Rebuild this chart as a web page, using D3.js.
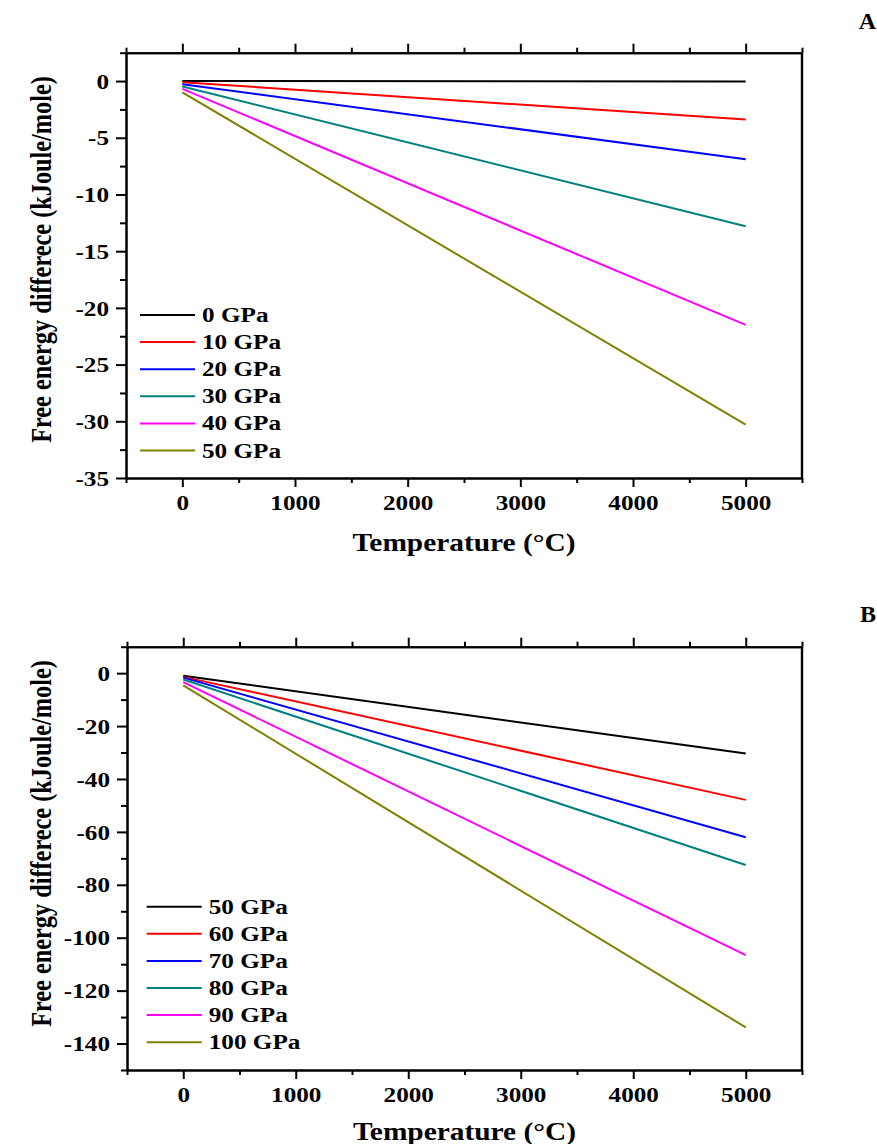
<!DOCTYPE html>
<html>
<head>
<meta charset="utf-8">
<script src="https://cdn.jsdelivr.net/npm/d3@7"></script>
<style>
  body { margin: 0; background: #fff; }
  text { font-family: "Liberation Serif", "Times New Roman", serif; font-weight: bold; fill: #000; }
  .axis path, .axis line { stroke: #000; stroke-width: 2; }
</style>
</head>
<body>
<div id="chart"></div>
<script>
// temperatures (°C) at which values were read
const temps = [0, 5000];

// panel A series (kJoule/mole)
const labelsA = ['0 GPa', '10 GPa', '20 GPa', '30 GPa', '40 GPa', '50 GPa'];
const gpa0 = [0.0, -0.03];
const gpa10 = [-0.1, -3.4];
const gpa20 = [-0.28, -6.9];
const gpa30 = [-0.48, -12.8];
const gpa40 = [-0.69, -21.5];
const gpa50 = [-0.99, -30.3];

// panel B series
const labelsB = ['50 GPa', '60 GPa', '70 GPa', '80 GPa', '90 GPa', '100 GPa'];
const gpa50b = [-0.95, -30.4];
const gpa60 = [-1.4, -47.9];
const gpa70 = [-1.7, -62.0];
const gpa80 = [-2.4, -72.5];
const gpa90 = [-3.4, -106.6];
const gpa100 = [-4.6, -133.9];

const colors = ['#000000', '#ff0000', '#0000ff', '#008080', '#ff00ff', '#808000'];

const xMajor = [0, 1000, 2000, 3000, 4000, 5000];
const xMinor = [-500, 500, 1500, 2500, 3500, 4500, 5500];
const yMajorA = [0, -5, -10, -15, -20, -25, -30, -35];
const yMinorA = [2.5, -2.5, -7.5, -12.5, -17.5, -22.5, -27.5, -32.5];
const yMajorB = [0, -20, -40, -60, -80, -100, -120, -140];
const yMinorB = [10, -10, -30, -50, -70, -90, -110, -130, -150];

const stretch = 1.2;
const plain = d => String(d);   // hyphen minus, no thousands separator

const svg = d3.select('#chart').append('svg')
    .attr('width', 877)
    .attr('height', 1144);

svg.append('rect').attr('width', 877).attr('height', 1144).attr('fill', '#fff');

function drawPanel(p) {
    const g = svg.append('g');

    const x = d3.scaleLinear().domain([-500, 5500]).range([p.left, p.right]);
    const y = d3.scaleLinear().domain(p.yDomain).range([p.bottom, p.top]);

    // bottom
    g.append('g').attr('class', 'axis')
        .attr('transform', `translate(0, ${p.bottom})`)
        .call(d3.axisBottom(x).tickValues(xMinor).tickSize(5).tickFormat('').tickSizeOuter(0));
    const bx = g.append('g').attr('class', 'axis')
        .attr('transform', `translate(0, ${p.bottom})`)
        .call(d3.axisBottom(x).tickValues(xMajor).tickSize(9).tickFormat(plain).tickSizeOuter(0));
    bx.selectAll('text')
        .attr('y', 32).attr('dy', 0)
        .attr('transform', `scale(${stretch},1)`)
        .style('font-size', '21px');

    // top
    g.append('g').attr('class', 'axis')
        .attr('transform', `translate(0, ${p.top})`)
        .call(d3.axisTop(x).tickValues(xMinor).tickSize(5).tickFormat('').tickSizeOuter(0));
    g.append('g').attr('class', 'axis')
        .attr('transform', `translate(0, ${p.top})`)
        .call(d3.axisTop(x).tickValues(xMajor).tickSize(9).tickFormat('').tickSizeOuter(0));

    // left
    g.append('g').attr('class', 'axis')
        .attr('transform', `translate(${p.left}, 0)`)
        .call(d3.axisLeft(y).tickValues(p.yMinor).tickSize(6).tickFormat('').tickSizeOuter(0));
    const ly = g.append('g').attr('class', 'axis')
        .attr('transform', `translate(${p.left}, 0)`)
        .call(d3.axisLeft(y).tickValues(p.yMajor).tickSize(10).tickFormat(plain).tickSizeOuter(0));
    ly.selectAll('text')
        .attr('x', -17 / stretch).attr('dy', '0.34em')
        .attr('transform', `scale(${stretch},1)`)
        .style('font-size', '21px');

    // right
    g.append('line')
        .attr('x1', p.right).attr('x2', p.right)
        .attr('y1', p.top).attr('y2', p.bottom)
        .attr('stroke', '#000').attr('stroke-width', 2.4);

    const line = d3.line()
        .x((d, i) => x(temps[i]))
        .y(d => y(d));

    g.selectAll('.series')
        .data(p.series)
        .enter()
        .append('path')
        .attr('class', 'series')
        .attr('d', d => line(d))
        .attr('fill', 'none')
        .attr('stroke', (d, i) => colors[i])
        .attr('stroke-width', 2);

    // legend
    const leg = g.selectAll('.leg')
        .data(p.labels)
        .enter()
        .append('g')
        .attr('class', 'leg')
        .attr('transform', (d, i) => `translate(${p.legX}, ${p.legY + i * 27.1})`);
    leg.append('line')
        .attr('x1', 0).attr('x2', 55)
        .attr('stroke', (d, i) => colors[i])
        .attr('stroke-width', 2);
    leg.append('text')
        .attr('transform', `translate(62, 7) scale(${stretch},1)`)
        .style('font-size', '21px')
        .text(d => d);

    // axis titles
    g.append('text')
        .attr('transform', `translate(${(p.left + p.right) / 2}, ${p.xTitleY}) scale(${stretch},1)`)
        .attr('text-anchor', 'middle')
        .style('font-size', '24.5px')
        .text('Temperature (°C)');

    g.append('text')
        .attr('transform', `translate(${p.yTitleX}, ${p.yTitleY}) scale(${stretch},1) rotate(-90)`)
        .attr('text-anchor', 'middle')
        .style('font-size', '24.3px')
        .text('Free energy differece (kJoule/mole)');

    g.append('text')
        .attr('x', 876).attr('y', p.tagY)
        .attr('text-anchor', 'end')
        .style('font-size', '24px')
        .text(p.tag);
}

drawPanel({
    left: 126, right: 802, top: 52.7, bottom: 478,
    yDomain: [-35, 2.5], yMajor: yMajorA, yMinor: yMinorA,
    series: [gpa0, gpa10, gpa20, gpa30, gpa40, gpa50],
    labels: labelsA, legX: 140, legY: 315,
    xTitleY: 551, yTitleX: 51, yTitleY: 259.5,
    tag: 'A', tagY: 29
});

drawPanel({
    left: 127, right: 802, top: 646.7, bottom: 1070,
    yDomain: [-150, 10], yMajor: yMajorB, yMinor: yMinorB,
    series: [gpa50b, gpa60, gpa70, gpa80, gpa90, gpa100],
    labels: labelsB, legX: 146.7, legY: 906.7,
    xTitleY: 1140, yTitleX: 51, yTitleY: 843.5,
    tag: 'B', tagY: 622
});
</script>
</body>
</html>
